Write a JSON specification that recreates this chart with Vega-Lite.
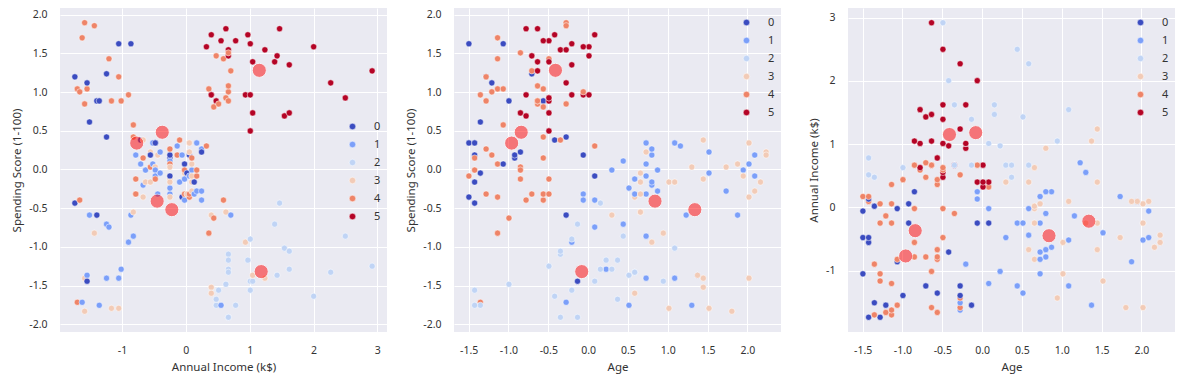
{
  "$schema": "https://vega.github.io/schema/vega-lite/v6.json",
  "padding": {"left": 11, "top": 8, "right": 5, "bottom": 5},
  "background": "#ffffff",
  "datasets": {
    "customers": [
      {"age": -1.425, "income": -1.739, "score": -0.435, "cluster": 0},
      {"age": -1.281, "income": -1.739, "score": 1.196, "cluster": 0},
      {"age": -1.353, "income": -1.701, "score": -1.716, "cluster": 4},
      {"age": -1.137, "income": -1.701, "score": 1.040, "cluster": 4},
      {"age": -0.563, "income": -1.663, "score": -0.396, "cluster": 4},
      {"age": -1.209, "income": -1.663, "score": 1.002, "cluster": 4},
      {"age": -0.276, "income": -1.625, "score": -1.716, "cluster": 1},
      {"age": -1.137, "income": -1.625, "score": 1.700, "cluster": 4},
      {"age": 1.805, "income": -1.586, "score": -1.832, "cluster": 3},
      {"age": -0.635, "income": -1.586, "score": 0.846, "cluster": 4},
      {"age": 2.020, "income": -1.586, "score": -1.405, "cluster": 3},
      {"age": -0.276, "income": -1.586, "score": 1.895, "cluster": 4},
      {"age": 1.374, "income": -1.548, "score": -1.367, "cluster": 1},
      {"age": -1.066, "income": -1.548, "score": 1.040, "cluster": 4},
      {"age": -0.133, "income": -1.548, "score": -1.444, "cluster": 0},
      {"age": -1.209, "income": -1.548, "score": 1.118, "cluster": 0},
      {"age": -0.276, "income": -1.510, "score": -0.590, "cluster": 1},
      {"age": -1.353, "income": -1.510, "score": 0.613, "cluster": 0},
      {"age": 0.944, "income": -1.434, "score": -0.823, "cluster": 3},
      {"age": -0.276, "income": -1.434, "score": 1.856, "cluster": 4},
      {"age": -0.276, "income": -1.395, "score": -0.590, "cluster": 0},
      {"age": -0.994, "income": -1.395, "score": 0.885, "cluster": 0},
      {"age": 0.513, "income": -1.357, "score": -1.755, "cluster": 1},
      {"age": -0.563, "income": -1.357, "score": 0.885, "cluster": 0},
      {"age": 1.087, "income": -1.243, "score": -1.405, "cluster": 1},
      {"age": -0.707, "income": -1.243, "score": 1.235, "cluster": 0},
      {"age": 0.441, "income": -1.243, "score": -0.707, "cluster": 1},
      {"age": -0.276, "income": -1.243, "score": 0.419, "cluster": 0},
      {"age": 0.083, "income": -1.205, "score": -0.745, "cluster": 1},
      {"age": -1.137, "income": -1.205, "score": 1.429, "cluster": 4},
      {"age": 1.518, "income": -1.166, "score": -1.794, "cluster": 3},
      {"age": -1.281, "income": -1.166, "score": 0.885, "cluster": 4},
      {"age": 1.015, "income": -1.052, "score": -1.794, "cluster": 3},
      {"age": -1.497, "income": -1.052, "score": 1.623, "cluster": 0},
      {"age": 0.728, "income": -1.052, "score": -1.405, "cluster": 1},
      {"age": -1.281, "income": -1.052, "score": 1.196, "cluster": 4},
      {"age": 0.226, "income": -1.014, "score": -1.289, "cluster": 1},
      {"age": -0.635, "income": -1.014, "score": 0.885, "cluster": 4},
      {"age": -0.205, "income": -0.899, "score": -0.940, "cluster": 1},
      {"age": -1.353, "income": -0.899, "score": 0.963, "cluster": 4},
      {"age": 1.877, "income": -0.861, "score": -0.590, "cluster": 1},
      {"age": -1.066, "income": -0.861, "score": 1.623, "cluster": 0},
      {"age": 0.657, "income": -0.823, "score": -0.551, "cluster": 3},
      {"age": -0.563, "income": -0.823, "score": 0.419, "cluster": 4},
      {"age": 0.728, "income": -0.823, "score": -0.862, "cluster": 1},
      {"age": -1.066, "income": -0.823, "score": 0.575, "cluster": 4},
      {"age": 0.800, "income": -0.785, "score": 0.186, "cluster": 1},
      {"age": -0.850, "income": -0.785, "score": -0.124, "cluster": 4},
      {"age": -0.707, "income": -0.785, "score": -0.318, "cluster": 4},
      {"age": -0.563, "income": -0.785, "score": -0.318, "cluster": 4},
      {"age": 0.728, "income": -0.708, "score": 0.070, "cluster": 1},
      {"age": -0.420, "income": -0.708, "score": 0.380, "cluster": 0},
      {"age": -0.563, "income": -0.670, "score": 0.148, "cluster": 4},
      {"age": 1.446, "income": -0.670, "score": 0.380, "cluster": 3},
      {"age": 0.800, "income": -0.670, "score": -0.202, "cluster": 1},
      {"age": 0.585, "income": -0.670, "score": -0.357, "cluster": 3},
      {"age": 0.872, "income": -0.632, "score": -0.008, "cluster": 1},
      {"age": 2.164, "income": -0.632, "score": -0.163, "cluster": 3},
      {"age": -0.850, "income": -0.556, "score": 0.031, "cluster": 4},
      {"age": 1.015, "income": -0.556, "score": -0.163, "cluster": 3},
      {"age": 2.235, "income": -0.556, "score": 0.225, "cluster": 3},
      {"age": -1.425, "income": -0.556, "score": 0.186, "cluster": 0},
      {"age": 2.020, "income": -0.518, "score": 0.070, "cluster": 1},
      {"age": 1.087, "income": -0.518, "score": 0.342, "cluster": 1},
      {"age": 1.733, "income": -0.479, "score": 0.031, "cluster": 3},
      {"age": -1.497, "income": -0.479, "score": 0.342, "cluster": 0},
      {"age": 0.298, "income": -0.479, "score": -0.008, "cluster": 1},
      {"age": 2.092, "income": -0.479, "score": -0.085, "cluster": 1},
      {"age": -1.425, "income": -0.479, "score": 0.342, "cluster": 0},
      {"age": -0.492, "income": -0.479, "score": -0.124, "cluster": 4},
      {"age": 2.235, "income": -0.441, "score": 0.186, "cluster": 3},
      {"age": 0.585, "income": -0.441, "score": -0.318, "cluster": 1},
      {"age": 1.518, "income": -0.403, "score": -0.047, "cluster": 1},
      {"age": 1.518, "income": -0.403, "score": 0.225, "cluster": 1},
      {"age": 1.446, "income": -0.250, "score": -0.124, "cluster": 3},
      {"age": -0.922, "income": -0.250, "score": 0.148, "cluster": 0},
      {"age": 0.441, "income": -0.250, "score": 0.109, "cluster": 1},
      {"age": 0.083, "income": -0.250, "score": -0.085, "cluster": 0},
      {"age": -1.137, "income": -0.250, "score": 0.070, "cluster": 4},
      {"age": 0.728, "income": -0.250, "score": -0.318, "cluster": 1},
      {"age": 1.302, "income": -0.250, "score": 0.031, "cluster": 3},
      {"age": -0.061, "income": -0.250, "score": 0.186, "cluster": 0},
      {"age": 2.020, "income": -0.250, "score": -0.357, "cluster": 3},
      {"age": 0.513, "income": -0.250, "score": -0.241, "cluster": 1},
      {"age": -1.281, "income": -0.250, "score": 0.264, "cluster": 4},
      {"age": 0.657, "income": -0.250, "score": -0.163, "cluster": 3},
      {"age": 1.159, "income": -0.136, "score": 0.303, "cluster": 1},
      {"age": -1.209, "income": -0.136, "score": 0.186, "cluster": 4},
      {"age": -0.348, "income": -0.098, "score": 0.380, "cluster": 4},
      {"age": 0.800, "income": -0.098, "score": -0.163, "cluster": 1},
      {"age": 2.092, "income": -0.060, "score": 0.186, "cluster": 1},
      {"age": -1.497, "income": -0.060, "score": -0.357, "cluster": 0},
      {"age": 0.657, "income": -0.021, "score": -0.047, "cluster": 3},
      {"age": 0.083, "income": -0.021, "score": -0.396, "cluster": 1},
      {"age": -0.492, "income": -0.021, "score": -0.318, "cluster": 4},
      {"age": -1.066, "income": -0.021, "score": 0.070, "cluster": 0},
      {"age": 0.585, "income": -0.021, "score": -0.124, "cluster": 1},
      {"age": -0.850, "income": -0.021, "score": -0.008, "cluster": 4},
      {"age": 0.657, "income": 0.017, "score": -0.318, "cluster": 3},
      {"age": -1.353, "income": 0.017, "score": -0.047, "cluster": 0},
      {"age": -1.137, "income": 0.055, "score": -0.357, "cluster": 4},
      {"age": 0.728, "income": 0.055, "score": -0.085, "cluster": 1},
      {"age": 2.020, "income": 0.055, "score": 0.342, "cluster": 3},
      {"age": -0.922, "income": 0.055, "score": 0.186, "cluster": 0},
      {"age": 0.728, "income": 0.055, "score": 0.225, "cluster": 3},
      {"age": -1.281, "income": 0.055, "score": -0.318, "cluster": 4},
      {"age": 1.948, "income": 0.093, "score": -0.008, "cluster": 1},
      {"age": 1.087, "income": 0.093, "score": -0.163, "cluster": 3},
      {"age": 2.092, "income": 0.093, "score": -0.280, "cluster": 3},
      {"age": 1.948, "income": 0.093, "score": -0.085, "cluster": 3},
      {"age": 1.877, "income": 0.093, "score": 0.070, "cluster": 3},
      {"age": -1.425, "income": 0.093, "score": 0.148, "cluster": 4},
      {"age": -0.061, "income": 0.131, "score": -0.318, "cluster": 1},
      {"age": -1.425, "income": 0.131, "score": -0.163, "cluster": 0},
      {"age": -1.497, "income": 0.170, "score": -0.085, "cluster": 4},
      {"age": -1.425, "income": 0.170, "score": -0.008, "cluster": 4},
      {"age": 1.733, "income": 0.170, "score": -0.280, "cluster": 1},
      {"age": 0.728, "income": 0.170, "score": 0.342, "cluster": 1},
      {"age": 0.872, "income": 0.246, "score": -0.280, "cluster": 1},
      {"age": 0.800, "income": 0.246, "score": 0.264, "cluster": 1},
      {"age": -0.850, "income": 0.246, "score": 0.225, "cluster": 0},
      {"age": -0.061, "income": 0.246, "score": -0.396, "cluster": 1},
      {"age": 0.083, "income": 0.322, "score": 0.303, "cluster": 4},
      {"age": 0.011, "income": 0.322, "score": 1.584, "cluster": 5},
      {"age": -1.137, "income": 0.360, "score": -0.823, "cluster": 4},
      {"age": -0.563, "income": 0.360, "score": 1.040, "cluster": 4},
      {"age": 0.298, "income": 0.398, "score": -0.590, "cluster": 3},
      {"age": 0.083, "income": 0.398, "score": 1.739, "cluster": 5},
      {"age": 1.446, "income": 0.398, "score": -1.522, "cluster": 3},
      {"age": -0.061, "income": 0.398, "score": 0.963, "cluster": 5},
      {"age": 0.585, "income": 0.398, "score": -1.599, "cluster": 3},
      {"age": 0.011, "income": 0.398, "score": 0.963, "cluster": 5},
      {"age": -0.994, "income": 0.437, "score": -0.629, "cluster": 4},
      {"age": -0.563, "income": 0.437, "score": 0.807, "cluster": 4},
      {"age": -1.353, "income": 0.475, "score": -1.755, "cluster": 2},
      {"age": -0.707, "income": 0.475, "score": 1.467, "cluster": 4},
      {"age": 0.370, "income": 0.475, "score": -1.677, "cluster": 2},
      {"age": -0.492, "income": 0.475, "score": 0.885, "cluster": 5},
      {"age": -1.425, "income": 0.513, "score": -1.560, "cluster": 2},
      {"age": -0.276, "income": 0.513, "score": 0.846, "cluster": 4},
      {"age": 1.302, "income": 0.551, "score": -1.755, "cluster": 1},
      {"age": -0.492, "income": 0.551, "score": 1.662, "cluster": 5},
      {"age": -0.779, "income": 0.589, "score": -0.396, "cluster": 4},
      {"age": -0.492, "income": 0.589, "score": 1.429, "cluster": 4},
      {"age": -0.994, "income": 0.627, "score": -1.483, "cluster": 2},
      {"age": -0.779, "income": 0.627, "score": 1.817, "cluster": 5},
      {"age": 0.657, "income": 0.627, "score": -0.551, "cluster": 3},
      {"age": -0.492, "income": 0.627, "score": 0.924, "cluster": 4},
      {"age": -0.348, "income": 0.666, "score": -1.095, "cluster": 2},
      {"age": -0.348, "income": 0.666, "score": 1.545, "cluster": 5},
      {"age": 0.298, "income": 0.666, "score": -1.289, "cluster": 2},
      {"age": 0.011, "income": 0.666, "score": 1.467, "cluster": 5},
      {"age": 0.370, "income": 0.666, "score": -1.172, "cluster": 2},
      {"age": -0.061, "income": 0.666, "score": 1.002, "cluster": 4},
      {"age": 0.585, "income": 0.666, "score": -1.328, "cluster": 2},
      {"age": -0.850, "income": 0.666, "score": 1.506, "cluster": 4},
      {"age": -0.133, "income": 0.666, "score": -1.910, "cluster": 2},
      {"age": -0.635, "income": 0.666, "score": 1.079, "cluster": 4},
      {"age": -0.348, "income": 0.666, "score": -1.910, "cluster": 2},
      {"age": -0.635, "income": 0.666, "score": 0.885, "cluster": 4},
      {"age": 1.231, "income": 0.704, "score": -0.590, "cluster": 1},
      {"age": -0.707, "income": 0.704, "score": 1.273, "cluster": 4},
      {"age": -1.425, "income": 0.780, "score": -1.755, "cluster": 2},
      {"age": -0.563, "income": 0.780, "score": 1.662, "cluster": 5},
      {"age": 0.800, "income": 0.933, "score": -0.940, "cluster": 3},
      {"age": -0.205, "income": 0.933, "score": 0.963, "cluster": 5},
      {"age": 0.226, "income": 0.971, "score": -1.172, "cluster": 2},
      {"age": -0.420, "income": 0.971, "score": 1.739, "cluster": 5},
      {"age": -0.205, "income": 1.009, "score": -0.900, "cluster": 2},
      {"age": -0.492, "income": 1.009, "score": 0.497, "cluster": 5},
      {"age": 0.083, "income": 1.009, "score": -1.444, "cluster": 2},
      {"age": -0.779, "income": 1.009, "score": 0.963, "cluster": 5},
      {"age": -0.205, "income": 1.009, "score": -1.560, "cluster": 2},
      {"age": -0.205, "income": 1.009, "score": 1.623, "cluster": 5},
      {"age": 0.944, "income": 1.047, "score": -1.444, "cluster": 2},
      {"age": -0.635, "income": 1.047, "score": 1.390, "cluster": 5},
      {"age": 1.374, "income": 1.047, "score": -1.367, "cluster": 3},
      {"age": -0.850, "income": 1.047, "score": 0.730, "cluster": 5},
      {"age": 1.446, "income": 1.238, "score": -1.405, "cluster": 3},
      {"age": -0.276, "income": 1.238, "score": 1.545, "cluster": 5},
      {"age": -0.133, "income": 1.391, "score": -0.707, "cluster": 2},
      {"age": -0.492, "income": 1.391, "score": 1.390, "cluster": 5},
      {"age": 0.513, "income": 1.429, "score": -1.367, "cluster": 2},
      {"age": -0.707, "income": 1.429, "score": 1.467, "cluster": 5},
      {"age": 0.154, "income": 1.468, "score": -0.435, "cluster": 2},
      {"age": -0.635, "income": 1.468, "score": 1.817, "cluster": 5},
      {"age": 1.087, "income": 1.544, "score": -1.017, "cluster": 2},
      {"age": -0.779, "income": 1.544, "score": 0.691, "cluster": 5},
      {"age": 0.154, "income": 1.620, "score": -1.289, "cluster": 2},
      {"age": -0.205, "income": 1.620, "score": 1.351, "cluster": 5},
      {"age": -0.348, "income": 1.620, "score": -1.056, "cluster": 2},
      {"age": -0.492, "income": 1.620, "score": 0.730, "cluster": 5},
      {"age": -0.420, "income": 2.002, "score": -1.638, "cluster": 2},
      {"age": -0.061, "income": 2.002, "score": 1.584, "cluster": 5},
      {"age": 0.585, "income": 2.269, "score": -1.328, "cluster": 2},
      {"age": -0.276, "income": 2.269, "score": 1.118, "cluster": 5},
      {"age": 0.441, "income": 2.498, "score": -0.862, "cluster": 2},
      {"age": -0.492, "income": 2.498, "score": 0.924, "cluster": 5},
      {"age": -0.492, "income": 2.918, "score": -1.250, "cluster": 2},
      {"age": -0.635, "income": 2.918, "score": 1.273, "cluster": 5}
    ],
    "centroids": [
      {"age": -0.41, "income": 1.15, "score": 1.28},
      {"age": -0.84, "income": -0.37, "score": 0.48},
      {"age": -0.96, "income": -0.77, "score": 0.34},
      {"age": 0.84, "income": -0.45, "score": -0.41},
      {"age": 1.34, "income": -0.22, "score": -0.52},
      {"age": -0.08, "income": 1.18, "score": -1.32}
    ]
  },
  "config": {
    "font": "Noto Sans",
    "view": {"fill": "#EAEAF2", "stroke": null},
    "axis": {
      "grid": true, "gridColor": "#ffffff", "gridWidth": 1, "gridOpacity": 1,
      "domain": false, "ticks": false, "labelPadding": 13,
      "labelFontSize": 10.5, "labelColor": "#333333",
      "titleFontSize": 11.5, "titleFontWeight": "normal", "titleColor": "#333333", "titlePadding": 6
    },
    "legend": {
      "orient": "none", "title": null, "padding": 0,
      "symbolType": "circle", "symbolSize": 42, "symbolOpacity": 1,
      "symbolStrokeColor": "#ffffff", "symbolStrokeWidth": 0.5,
      "labelFontSize": 11, "labelColor": "#333333", "labelOffset": 16, "rowPadding": 6
    }
  },
  "spacing": 67,
  "bounds": "flush",
  "resolve": {"scale": {"x": "independent", "y": "independent", "color": "independent"}, "legend": {"color": "independent"}},
  "hconcat": [
    {
      "width": 327, "height": 324,
      "layer": [
        {
          "data": {"name": "customers"},
          "mark": {"type": "circle", "size": 38, "opacity": 1, "stroke": "#ffffff", "strokeWidth": 0.5},
          "encoding": {
            "x": {"field": "income", "type": "quantitative", "title": "Annual Income (k$)",
                  "scale": {"domain": [-1.972, 3.151], "nice": false, "zero": false},
                  "axis": {"values": [-1, 0, 1, 2, 3], "labelExpr": "replace(format(datum.value, 'd'), '\u2212', '-')"}},
            "y": {"field": "score", "type": "quantitative", "title": "Spending Score (1-100)",
                  "scale": {"domain": [-2.100, 2.085], "nice": false, "zero": false},
                  "axis": {"values": [-2, -1.5, -1, -0.5, 0, 0.5, 1, 1.5, 2], "labelExpr": "replace(format(datum.value, '.1f'), '\u2212', '-')"}},
            "color": {"field": "cluster", "type": "nominal",
                      "scale": {"domain": [0, 1, 2, 3, 4, 5], "range": ["#3b4cc0", "#7b9ff9", "#c0d4f5", "#f2cbb7", "#ee8468", "#b40426"]},
                      "legend": {"legendX": 287, "legendY": 113}}
          }
        },
        {
          "data": {"name": "centroids"},
          "mark": {"type": "circle", "size": 200, "color": "#ff0000", "opacity": 0.5, "stroke": "#ffffff", "strokeWidth": 1},
          "encoding": {
            "x": {"field": "income", "type": "quantitative"},
            "y": {"field": "score", "type": "quantitative"}
          }
        }
      ]
    },
    {
      "width": 327, "height": 324,
      "layer": [
        {
          "data": {"name": "customers"},
          "mark": {"type": "circle", "size": 38, "opacity": 1, "stroke": "#ffffff", "strokeWidth": 0.5},
          "encoding": {
            "x": {"field": "age", "type": "quantitative", "title": "Age",
                  "scale": {"domain": [-1.684, 2.422], "nice": false, "zero": false},
                  "axis": {"values": [-1.5, -1, -0.5, 0, 0.5, 1, 1.5, 2], "labelExpr": "replace(format(datum.value, '.1f'), '\u2212', '-')"}},
            "y": {"field": "score", "type": "quantitative", "title": "Spending Score (1-100)",
                  "scale": {"domain": [-2.100, 2.085], "nice": false, "zero": false},
                  "axis": {"values": [-2, -1.5, -1, -0.5, 0, 0.5, 1, 1.5, 2], "labelExpr": "replace(format(datum.value, '.1f'), '\u2212', '-')"}},
            "color": {"field": "cluster", "type": "nominal",
                      "scale": {"domain": [0, 1, 2, 3, 4, 5], "range": ["#3b4cc0", "#7b9ff9", "#c0d4f5", "#f2cbb7", "#ee8468", "#b40426"]},
                      "legend": {"legendX": 287, "legendY": 9}}
          }
        },
        {
          "data": {"name": "centroids"},
          "mark": {"type": "circle", "size": 200, "color": "#ff0000", "opacity": 0.5, "stroke": "#ffffff", "strokeWidth": 1},
          "encoding": {
            "x": {"field": "age", "type": "quantitative"},
            "y": {"field": "score", "type": "quantitative"}
          }
        }
      ]
    },
    {
      "width": 327, "height": 324,
      "layer": [
        {
          "data": {"name": "customers"},
          "mark": {"type": "circle", "size": 38, "opacity": 1, "stroke": "#ffffff", "strokeWidth": 0.5},
          "encoding": {
            "x": {"field": "age", "type": "quantitative", "title": "Age",
                  "scale": {"domain": [-1.684, 2.422], "nice": false, "zero": false},
                  "axis": {"values": [-1.5, -1, -0.5, 0, 0.5, 1, 1.5, 2], "labelExpr": "replace(format(datum.value, '.1f'), '\u2212', '-')"}},
            "y": {"field": "income", "type": "quantitative", "title": "Annual Income (k$)",
                  "scale": {"domain": [-1.972, 3.151], "nice": false, "zero": false},
                  "axis": {"values": [-1, 0, 1, 2, 3], "labelExpr": "replace(format(datum.value, 'd'), '\u2212', '-')"}},
            "color": {"field": "cluster", "type": "nominal",
                      "scale": {"domain": [0, 1, 2, 3, 4, 5], "range": ["#3b4cc0", "#7b9ff9", "#c0d4f5", "#f2cbb7", "#ee8468", "#b40426"]},
                      "legend": {"legendX": 287, "legendY": 9}}
          }
        },
        {
          "data": {"name": "centroids"},
          "mark": {"type": "circle", "size": 200, "color": "#ff0000", "opacity": 0.5, "stroke": "#ffffff", "strokeWidth": 1},
          "encoding": {
            "x": {"field": "age", "type": "quantitative"},
            "y": {"field": "income", "type": "quantitative"}
          }
        }
      ]
    }
  ]
}
